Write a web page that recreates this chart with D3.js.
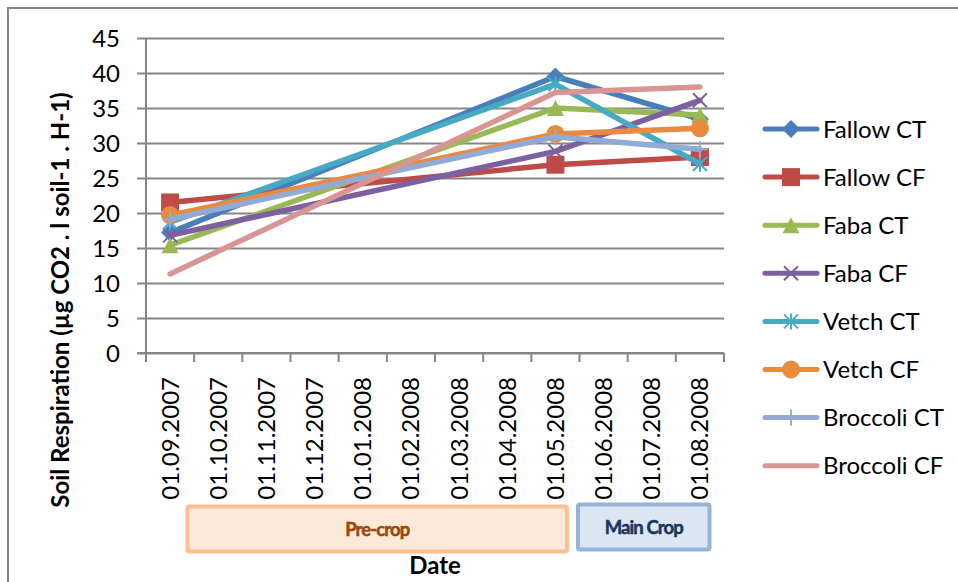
<!DOCTYPE html>
<html>
<head>
<meta charset="utf-8">
<script src="https://cdn.jsdelivr.net/npm/d3@7"></script>
<style>
  html, body { margin: 0; padding: 0; background: #fff; }
  svg { display: block; }
  text { font-family: Lato, "Open Sans", sans-serif; fill: #000; }
</style>
</head>
<body>
<svg id="chart" width="958" height="582"></svg>
<script>
// Monthly category axis
const dates = ["01.09.2007", "01.10.2007", "01.11.2007", "01.12.2007", "01.01.2008",
  "01.02.2008", "01.03.2008", "01.04.2008", "01.05.2008", "01.06.2008",
  "01.07.2008", "01.08.2008"];
// Sampling dates that carry measurements
const sampleDates = ["01.09.2007", "01.05.2008", "01.08.2008"];

const seriesNames = ["Fallow CT", "Fallow CF", "Faba CT", "Faba CF",
  "Vetch CT", "Vetch CF", "Broccoli CT", "Broccoli CF"];

// Soil respiration per treatment at each sampling date
const fallowCT   = [17.2, 39.5, 33.4];
const fallowCF   = [21.5, 26.9, 28.0];
const fabaCT     = [15.4, 35.0, 34.0];
const fabaCF     = [16.8, 28.8, 36.1];
const vetchCT    = [18.7, 38.4, 27.0];
const vetchCF    = [19.7, 31.3, 32.1];
const broccoliCT = [19.1, 30.9, 29.1];
const broccoliCF = [11.3, 37.2, 38.0];

const yTicks = [0, 5, 10, 15, 20, 25, 30, 35, 40, 45];

const periods = [
  { label: "Pre-crop", from: "01.09.2007", to: "01.05.2008" },
  { label: "Main Crop", from: "01.06.2008", to: "01.08.2008" }
];

const seriesValues = [fallowCT, fallowCF, fabaCT, fabaCF, vetchCT, vetchCF, broccoliCT, broccoliCF];
const colors = ["#4A7EBB", "#BE4B48", "#98B954", "#7D60A0", "#46AAC5", "#EA8A3E", "#92AAD6", "#D99593"];
const markers = ["diamond", "square", "triangle", "x", "asterisk", "circle", "plus", "none"];

const series = seriesNames.map((name, i) => ({
  name, color: colors[i], marker: markers[i],
  points: sampleDates.map((d, j) => ({ date: d, value: seriesValues[i][j] }))
}));

const svg = d3.select("#chart");
const gridColor = "#868686";

// chart frame
svg.append("rect").attr("x", 8).attr("y", 8).attr("width", 960).attr("height", 600)
  .attr("fill", "none").attr("stroke", gridColor).attr("stroke-width", 2);

const plot = { left: 146, right: 724, top: 38, bottom: 353 };

const x = d3.scaleBand().domain(dates).range([plot.left, plot.right]);
const y = d3.scaleLinear().domain([0, 45]).range([plot.bottom, plot.top]);

// horizontal gridlines + y ticks
const yAxis = d3.axisLeft(y).tickValues(yTicks).tickSize(plot.right - plot.left + 9)
  .tickSizeOuter(0).tickFormat(d3.format("d")).tickPadding(17);
const gy = svg.append("g").attr("transform", `translate(${plot.right},0)`).call(yAxis);
gy.select(".domain").remove();
gy.selectAll(".tick line").attr("stroke", gridColor).attr("stroke-width", 2);
gy.selectAll(".tick text").attr("font-size", 24).attr("font-family", "Lato").attr("fill", "#000")
  .attr("dy", "0.35em");

// y axis line
svg.append("line").attr("x1", plot.left).attr("x2", plot.left)
  .attr("y1", plot.top).attr("y2", plot.bottom + 9)
  .attr("stroke", gridColor).attr("stroke-width", 2);

// x axis with ticks between categories
const boundaries = dates.map(d => x(d)).concat([x(dates[dates.length - 1]) + x.bandwidth()]);
svg.append("line").attr("x1", plot.left - 9).attr("x2", plot.right)
  .attr("y1", plot.bottom).attr("y2", plot.bottom)
  .attr("stroke", gridColor).attr("stroke-width", 2);
svg.append("g").selectAll("line").data(boundaries).join("line")
  .attr("x1", d => d).attr("x2", d => d)
  .attr("y1", plot.bottom).attr("y2", plot.bottom + 9)
  .attr("stroke", gridColor).attr("stroke-width", 2);

const cx = d => x(d) + x.bandwidth() / 2;

svg.append("g").selectAll("text").data(dates).join("text")
  .attr("transform", d => `translate(${cx(d) + 8.5},${plot.bottom + 24}) rotate(-90)`)
  .attr("text-anchor", "end").attr("font-size", 24)
  .text(d => d);

// period boxes under the axis
const periodStyles = {
  "Pre-crop": { fill: "#FDE9D9", stroke: "#FAC090", text: "#984807", y0: 505, y1: 553, pad0: 40, pad1: 11 },
  "Main Crop": { fill: "#DCE6F2", stroke: "#95B3D7", text: "#17375E", y0: 503, y1: 551, pad0: -3, pad1: 13 }
};
const pg = svg.append("g");
periods.forEach(p => {
  const st = periodStyles[p.label];
  const xa = x(p.from) + st.pad0;
  const xb = x(p.to) + x.bandwidth() - st.pad1;
  pg.append("rect").attr("x", xa + 1.5).attr("y", st.y0 + 1.5)
    .attr("width", xb - xa - 3).attr("height", st.y1 - st.y0 - 3)
    .attr("rx", 2).attr("fill", st.fill).attr("stroke", st.stroke).attr("stroke-width", 4);
  pg.append("text").attr("x", (xa + xb) / 2).attr("y", (st.y0 + st.y1) / 2 + 6.5)
    .attr("text-anchor", "middle").attr("font-family", "Roboto").attr("font-weight", "bold")
    .attr("font-size", 18.5).attr("letter-spacing", -0.9).style("fill", st.text)
    .style("stroke", st.text).style("stroke-width", 0.5).text(p.label);
});

// axis titles
svg.append("text").attr("x", 435).attr("y", 574).attr("text-anchor", "middle")
  .attr("font-size", 24).attr("font-weight", "bold").text("Date");
svg.append("text").attr("transform", "translate(69,300) rotate(-90)")
  .attr("text-anchor", "middle").attr("font-size", 24).attr("font-weight", "bold")
  .text("Soil Respiration (µg CO2 . l soil-1 . H-1)");

// marker shapes
function drawMarker(g, type, color) {
  switch (type) {
    case "diamond":
      g.append("path").attr("d", "M0,-9L9,0L0,9L-9,0Z").attr("fill", color); break;
    case "square":
      g.append("rect").attr("x", -9).attr("y", -9).attr("width", 18).attr("height", 18).attr("fill", color); break;
    case "triangle":
      g.append("path").attr("d", "M0,-8L8.5,8L-8.5,8Z").attr("fill", color); break;
    case "x":
      g.append("path").attr("d", "M-7,-7L7,7M-7,7L7,-7").attr("stroke", color).attr("stroke-width", 2).attr("fill", "none"); break;
    case "asterisk":
      g.append("path").attr("d", "M-7,-7L7,7M-7,7L7,-7M0,-8L0,8").attr("stroke", color).attr("stroke-width", 2).attr("fill", "none"); break;
    case "circle":
      g.append("circle").attr("r", 9).attr("fill", color); break;
    case "plus":
      g.append("path").attr("d", "M-8,0L8,0M0,-8L0,8").attr("stroke", color).attr("stroke-width", 2).attr("fill", "none"); break;
  }
}

const line = d3.line().x(d => cx(d.date)).y(d => y(d.value));

const sg = svg.append("g");
series.forEach(s => {
  const g = sg.append("g");
  g.append("path").datum(s.points).attr("d", line)
    .attr("fill", "none").attr("stroke", s.color).attr("stroke-width", 5.5)
    .attr("stroke-linecap", "round").attr("stroke-linejoin", "round");
  s.points.forEach(p => {
    const m = g.append("g").attr("transform", `translate(${cx(p.date)},${y(p.value)})`);
    drawMarker(m, s.marker, s.color);
  });
});

// legend
const lg = svg.append("g");
series.forEach((s, i) => {
  const yy = 129 + i * 48.1;
  const row = lg.append("g").attr("transform", `translate(0,${yy})`);
  row.append("line").attr("x1", 765).attr("x2", 817).attr("y1", 0).attr("y2", 0)
    .attr("stroke", s.color).attr("stroke-width", 5).attr("stroke-linecap", "round");
  const m = row.append("g").attr("transform", "translate(791,0)");
  drawMarker(m, s.marker, s.color);
  row.append("text").attr("x", 823).attr("y", 8.5).attr("font-size", 24).text(s.name);
});
</script>
</body>
</html>
